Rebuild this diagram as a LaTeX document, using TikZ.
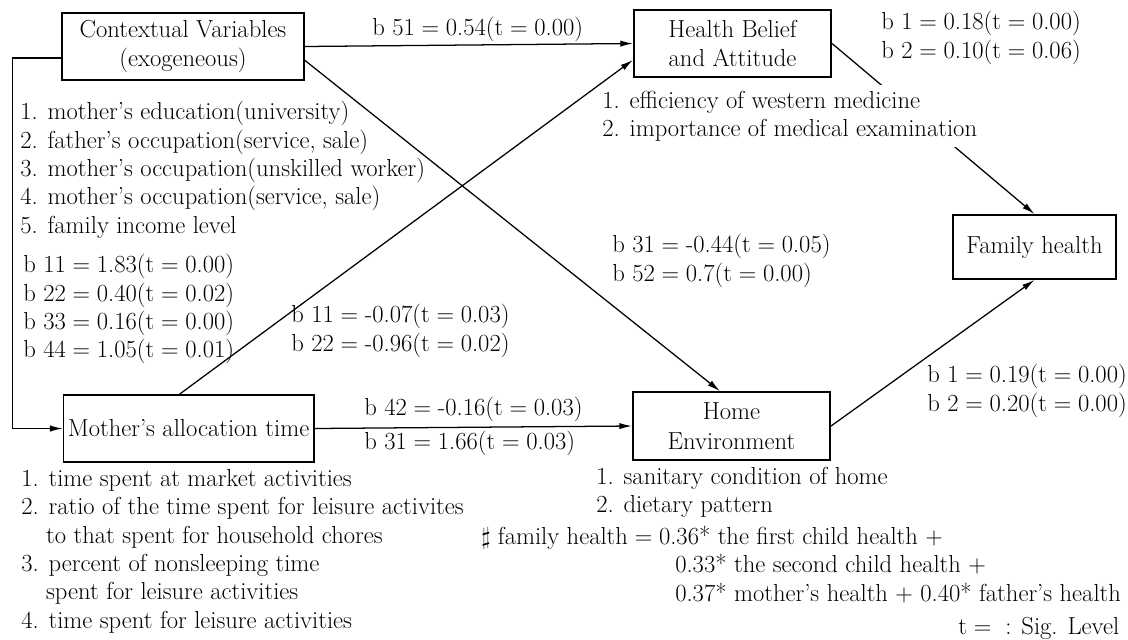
\documentclass[tikz,border=0pt]{standalone}
\usetikzlibrary{positioning,arrows.meta}
\tikzset{>={Latex[length=9pt,width=4.5pt]}}
\tikzset{
  box/.style={draw, line width=1.3pt, align=center, inner sep=0pt, font=\fontsize{17.5}{21}\selectfont},
  lbl/.style={anchor=north west, align=left, inner sep=0pt, font=\fontsize{17.5}{20.2}\selectfont},
  link/.style={->, line width=0.9pt}
}

\begin{document}
\begin{tikzpicture}[x=0.025cm, y=-0.025cm]
    \useasboundingbox (0,0) rectangle (1128,639);

    % boxes
    \node[box, minimum width=6.03cm, minimum height=1.68cm] at (183,46.5) (cv) {Contextual Variables\\(exogeneous)};
    \node[box, minimum width=4.93cm, minimum height=1.68cm] at (732.5,43.5) (hb) {Health Belief\\and Attitude};
    \node[box, minimum width=6.25cm, minimum height=1.68cm] at (188.6,428.5) (mat) {Mother's allocation time};
    \node[box, minimum width=4.93cm, minimum height=1.7cm] at (731.5,426) (home) {Home\\Environment};
    \node[box, minimum width=4.08cm, minimum height=1.6cm] at (1034.5,247) (fh) {Family health};

    % connectors
    \coordinate (corner) at (12.5,58);
    \draw[link] (cv.west |- corner) -- (corner) |- (mat.west);
    \draw[link] (cv.east) -- (hb.west);
    \draw[link] ([yshift=-0.34cm]cv.east) -- ([xshift=-0.29cm]home.north);
    \draw[link] ([xshift=-0.22cm]mat.north) -- ([yshift=-0.41cm]hb.west);
    \draw[link] (mat.east) -- (home.west);
    \draw[link] (hb.east) -- (fh.north);
    \draw[link] (home.east) -- (fh.south);

    % lists
    \node[lbl] at (20,101) (cvlist) {1. mother's education(university)\\
        2. father's occupation(service, sale)\\
        3. mother's occupation(unskilled worker)\\
        4. mother's occupation(service, sale)\\
        5. family income level};
    \node[lbl, fill=white, inner ysep=4pt] at (602,85) (hblist) {1. efficiency of western medicine\\
        2. importance of medical examination};
    \node[lbl] at (21,469) (matlist) {1. time spent at market activities\\
        2. ratio of the time spent for leisure activites\\
        \hphantom{2.\ }to that spent for household chores\\
        3. percent of nonsleeping time\\
        \hphantom{3.\ }spent for leisure activities\\
        4. time spent for leisure activities};
    \node[lbl] at (596,467) (homelist) {1. sanitary condition of home\\
        2. dietary pattern};

    % coefficients
    \node[lbl] at (372,17) (b51) {b 51${}={}$0.54(t${}={}$0.00)};
    \node[lbl] at (881,11) (hbcoef) {b 1${}={}$0.18(t${}={}$0.00)\\b 2${}={}$0.10(t${}={}$0.06)};
    \node[lbl] at (23,254) (cvcoef) {b 11${}={}$1.83(t${}={}$0.00)\\
        b 22${}={}$0.40(t${}={}$0.02)\\
        b 33${}={}$0.16(t${}={}$0.00)\\
        b 44${}={}$1.05(t${}={}$0.01)};
    \node[lbl] at (612,234) (homein) {b 31${}={}$-0.44(t${}={}$0.05)\\b 52${}={}$0.7(t${}={}$0.00)};
    \node[lbl] at (291,304) (matcoef) {b 11${}={}$-0.07(t${}={}$0.03)\\b 22${}={}$-0.96(t${}={}$0.02)};
    \node[lbl] at (364,397) (b42) {b 42${}={}$-0.16(t${}={}$0.03)};
    \node[lbl] at (364,431) (b31) {b 31${}={}$1.66(t${}={}$0.03)};
    \node[lbl] at (927,364) (homecoef) {b 1${}={}$0.19(t${}={}$0.00)\\b 2${}={}$0.20(t${}={}$0.00)};

    % notes
    \node[lbl] at (481,526) (fheq) {$\sharp$ family health${}={}$0.36* the first child health $+$};
    \node[lbl] at (675,554) (fheqb) {0.33* the second child health $+$\\
        0.37* mother's health $+$ 0.40* father's health};
    \node[lbl] at (958,617) (sig) {t${}={}$ : Sig. Level};

\end{tikzpicture}
\end{document}
